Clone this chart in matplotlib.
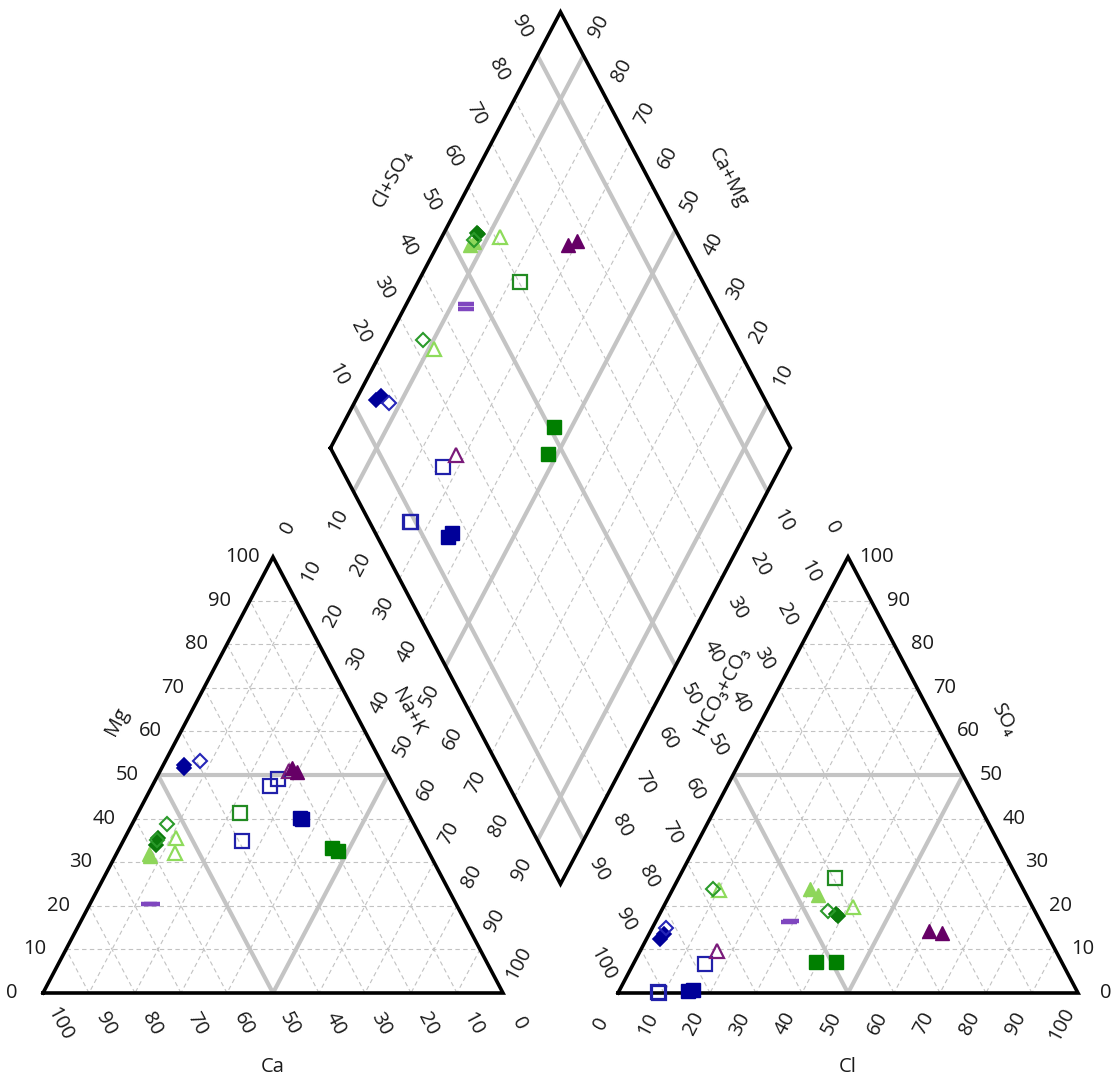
import numpy as np
import matplotlib
matplotlib.use('Agg')
import matplotlib.pyplot as plt

plt.rcParams['font.family'] = ['Open Sans', 'DejaVu Sans']

# ---------------- data (percent of meq) ----------------
group = ['A', 'A', 'B', 'C', 'C', 'D', 'D', 'D', 'E', 'E', 'F', 'G', 'G', 'H', 'H',
         'I', 'I', 'J', 'J', 'K', 'K', 'L', 'M', 'M']
mg  = [52.3, 51.5, 53.2, 40.2, 40.0, 49.1, 47.5, 34.9, 33.3, 32.6, 41.2, 35.5, 33.9, 38.7, 35.0,
       31.9, 31.5, 35.5, 32.0, 51.5, 50.8, 51.0, 20.4, 20.4]
nak = [4.4, 5.0, 7.5, 35.8, 36.2, 26.6, 25.7, 25.9, 46.1, 47.9, 22.2, 7.3, 7.6, 7.7, 7.3,
       7.0, 7.5, 11.2, 12.7, 28.3, 29.8, 28.0, 12.8, 13.4]
cl  = [3.0, 3.3, 3.0, 15.1, 16.0, 15.6, 8.6, 9.0, 43.8, 39.6, 34.0, 38.3, 39.0, 8.7, 36.1,
       29.8, 32.3, 10.2, 41.3, 60.5, 63.5, 16.7, 29.5, 29.1]
so4 = [12.3, 13.6, 14.8, 0.4, 0.6, 6.6, 0.2, 0.0, 7.2, 7.0, 26.3, 18.2, 17.6, 23.8, 18.9,
       23.8, 22.5, 23.6, 19.7, 14.3, 13.8, 9.7, 16.4, 16.2]

tick_vals = list(range(0, 101, 10))
inner_vals = list(range(10, 100, 10))

# ---------------- styles ----------------
styles = {
    'A': dict(marker='D', ms=7.5, mfc='#000099', mec='#000099', mew=1.2),
    'B': dict(marker='D', ms=7, mfc='none', mec='#2626b8', mew=1.5),
    'C': dict(marker='s', ms=10, mfc='#000099', mec='#000099', mew=1.0),
    'D': dict(marker='s', ms=9.5, mfc='none', mec='#2020aa', mew=1.6),
    'E': dict(marker='s', ms=10, mfc='#007f00', mec='#007f00', mew=1.0),
    'F': dict(marker='s', ms=9.5, mfc='none', mec='#228b22', mew=1.6),
    'G': dict(marker='D', ms=7.5, mfc='#0b7a0b', mec='#0b7a0b', mew=1.2),
    'H': dict(marker='D', ms=7, mfc='none', mec='#2a9a2a', mew=1.5),
    'I': dict(marker='^', ms=10.5, mfc='#8ed65a', mec='#8ed65a', mew=1.0),
    'J': dict(marker='^', ms=10, mfc='none', mec='#8edb5b', mew=1.6),
    'K': dict(marker='^', ms=10.5, mfc='#660066', mec='#660066', mew=1.0),
    'L': dict(marker='^', ms=10, mfc='none', mec='#7a1a7a', mew=1.6),
    'M': dict(marker='_', ms=12, mfc='#7f46bf', mec='#7f46bf', mew=3.2),
}
draw_order = ['A', 'B', 'C', 'D', 'E', 'F', 'I', 'J', 'L', 'K', 'G', 'H', 'M']

# ---------------- geometry (pixel space) ----------------
W, H = 1113, 1085
fig = plt.figure(figsize=(W / 100, H / 100), dpi=100)
ax = fig.add_axes([0, 0, 1, 1])
ax.set_xlim(0, W)
ax.set_ylim(H, 0)
ax.axis('off')

CL = np.array([43.0, 993.0]); CR = np.array([503.0, 993.0]); CT = np.array([273.0, 557.0])
AL = np.array([618.0, 993.0]); AR = np.array([1078.0, 993.0]); AT = np.array([848.0, 557.0])
DB = np.array([(CR[0] + AL[0]) / 2, 993.0 - (AL[0] - CR[0]) / 2 * (CR[1] - CT[1]) / (CR[0] - CT[0])])
DL = DB + (CT - CR)
DR = DB + (AT - AL)
DT = DL + DR - DB

def cation_xy(ca, m, n):
    s = ca + m + n
    return (ca * CL + m * CT + n * CR) / s

def anion_xy(h, c, s4):
    s = h + c + s4
    return (h * AL + c * AR + s4 * AT) / s

def diamond_xy(n, a):
    return DB + (1 - n) * (DL - DB) + a * (DR - DB)

GRID = dict(color='#c2c2c2', lw=0.8, ls=(0, (4, 3)), zorder=1)
THICK = dict(color='#c4c4c4', lw=3.0, zorder=2, solid_capstyle='butt')
EDGE = dict(color='black', lw=2.6, zorder=3, solid_joinstyle='miter')

def seg(p, q, **kw):
    ax.plot([p[0], q[0]], [p[1], q[1]], **kw)

def tri_grid(P0, P1, P2):
    corners = [P0, P1, P2]
    for i in range(3):
        j, k = (i + 1) % 3, (i + 2) % 3
        for v in inner_vals:
            f = v / 100
            p = corners[i] * f + corners[j] * (1 - f)
            q = corners[i] * f + corners[k] * (1 - f)
            seg(p, q, **(THICK if v == 50 else GRID))
    xs = [P0[0], P1[0], P2[0], P0[0]]
    ys = [P0[1], P1[1], P2[1], P0[1]]
    ax.plot(xs, ys, **EDGE)

tri_grid(CL, CR, CT)
tri_grid(AL, AR, AT)

for v in inner_vals:
    f = v / 100
    st = THICK if v in (10, 50, 90) else GRID
    seg(diamond_xy(0, f), diamond_xy(1, f), **st)
    seg(diamond_xy(f, 0), diamond_xy(f, 1), **st)
ax.plot([DL[0], DT[0], DR[0], DB[0], DL[0]], [DL[1], DT[1], DR[1], DB[1], DL[1]], **EDGE)

# ---------------- labels ----------------
FS = 14.5
TC = '#1a1a1a'
def unit(v):
    v = np.asarray(v, float)
    return v / np.hypot(*v)

e_ur = unit(CT - CL)     # up-right
e_dr = unit(CR - CT)     # down-right
e_ul = -e_dr             # up-left
e_dl = -e_ur             # down-left
ANG = np.degrees(np.arctan2(CR[1] - CT[1], CR[0] - CT[0]))  # ~62

def lab(p, off, txt, rot):
    q = p + off
    ax.text(q[0], q[1], txt, rotation=rot, ha='center', va='center', fontsize=FS,
            color=TC, rotation_mode='anchor')

for v in tick_vals:
    f = v / 100
    # cation triangle
    lab((1 - f) * CL + f * CT, np.array([-31, 0]), str(v), 0)          # Mg
    lab(f * CL + (1 - f) * CR, e_dr * 35, str(v), -ANG)                # Ca
    lab(f * CR + (1 - f) * CT, e_ur * 33, str(v), ANG)                 # Na+K
    # anion triangle
    lab(f * AT + (1 - f) * AR, np.array([28, 0]), str(v), 0)           # SO4
    lab(f * AR + (1 - f) * AL, e_dl * 35, str(v), ANG)                 # Cl
    lab(f * AL + (1 - f) * AT, e_ul * 33, str(v), -ANG)                # HCO3
for v in inner_vals:
    f = v / 100
    lab(diamond_xy(0, f), e_ul * 33, str(v), -ANG)          # Cl+SO4
    lab(diamond_xy(1 - f, 1), e_ur * 33, str(v), ANG)       # Ca+Mg
    lab(diamond_xy(f, 0), e_dl * 33, str(v), ANG)           # Na+K
    lab(diamond_xy(1, 1 - f), e_dr * 33, str(v), -ANG)      # HCO3+CO3

def title(x, y, txt, rot):
    ax.text(x, y, txt, rotation=rot, ha='center', va='center', fontsize=FS,
            color=TC, rotation_mode='anchor')

title(117, 722, 'Mg', ANG)
title(273, 1067, 'Ca', 0)
title(408, 712, 'Na+K', -ANG)
title(392, 178, 'Cl+SO\u2084', ANG)
title(728, 178, 'Ca+Mg', -ANG)
title(722, 690, 'HCO\u2083+CO\u2083', ANG)
title(1004, 720, 'SO\u2084', -ANG)
title(848, 1067, 'Cl', 0)

# ---------------- points ----------------
g_arr = np.array(group)
mg_a, nak_a = np.array(mg, float), np.array(nak, float)
cl_a, so4_a = np.array(cl, float), np.array(so4, float)
ca_a = 100 - mg_a - nak_a
hco3_a = 100 - cl_a - so4_a

for z, g in enumerate(draw_order):
    idx = np.where(g_arr == g)[0]
    st = styles[g]
    pc = np.array([cation_xy(ca_a[i], mg_a[i], nak_a[i]) for i in idx])
    pa = np.array([anion_xy(hco3_a[i], cl_a[i], so4_a[i]) for i in idx])
    pd = np.array([diamond_xy(nak_a[i] / 100, (cl_a[i] + so4_a[i]) / 100) for i in idx])
    for P in (pc, pa, pd):
        ax.plot(P[:, 0], P[:, 1], ls='none', zorder=10 + z, **st)

fig.savefig('out.png', dpi=100)
